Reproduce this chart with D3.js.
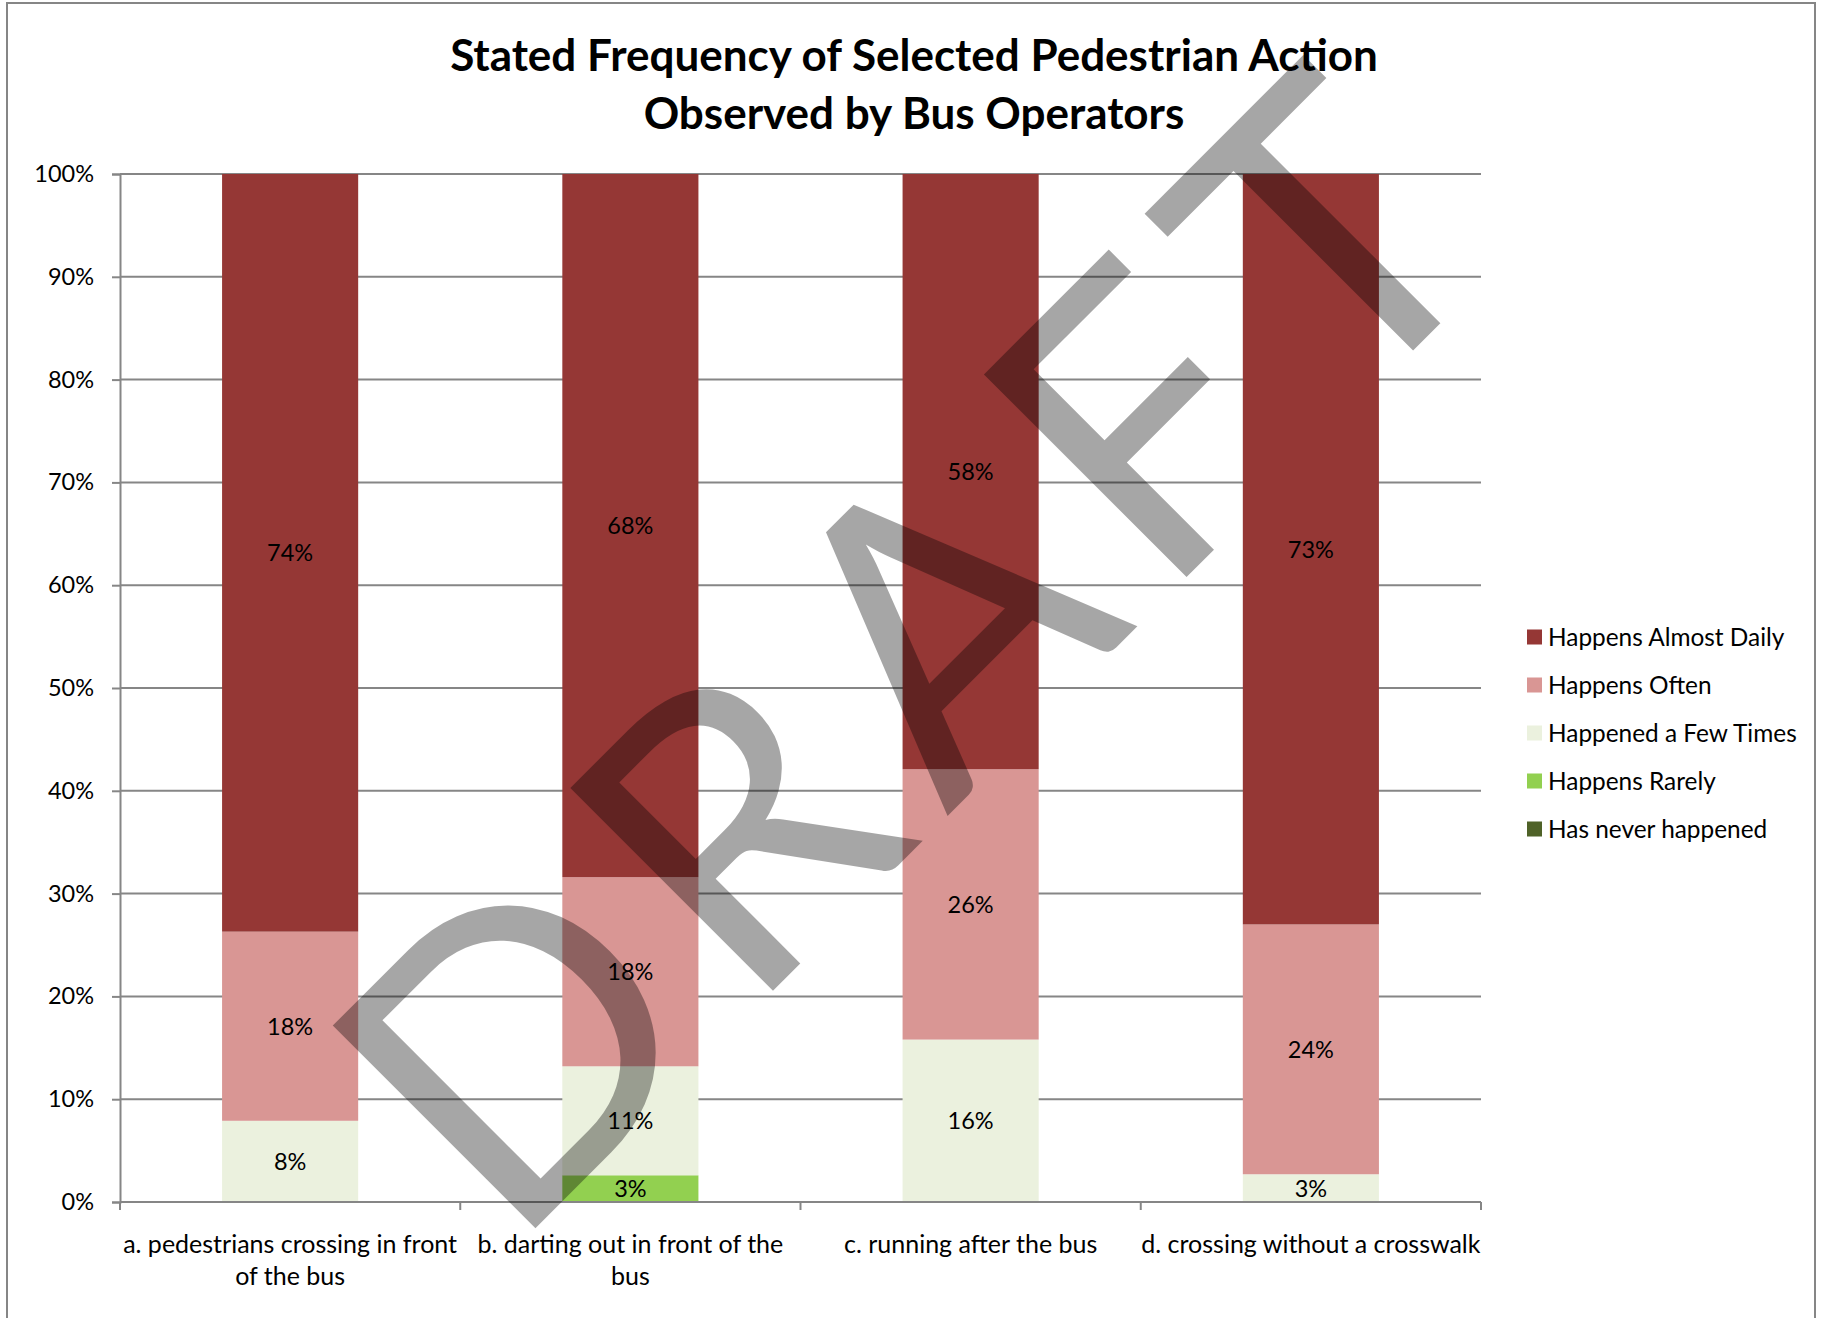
<!DOCTYPE html>
<meta charset="utf-8">
<html>
<head>
    <script src="https://d3js.org/d3.v7.min.js"></script>
    <style>
        body { margin: 0; background: white; }
        text { font-family: Lato, "Open Sans", sans-serif; }
    </style>
</head>
<body>
    <script>

        // categories and series (percent of operators); "\n" marks the label wrap
        const categories = [
            "a. pedestrians crossing in front\nof the bus",
            "b. darting out in front of the\nbus",
            "c. running after the bus",
            "d. crossing without a crosswalk"
        ];
        const seriesNames = ["Happens Almost Daily", "Happens Often", "Happened a Few Times", "Happens Rarely", "Has never happened"];
        const almostDaily = [73.7, 68.4, 57.9, 73.0];
        const often = [18.4, 18.4, 26.3, 24.3];
        const fewTimes = [7.9, 10.6, 15.8, 2.7];
        const rarely = [0, 2.6, 0, 0];
        const never = [0, 0, 0, 0];
        const yTicks = [0, 10, 20, 30, 40, 50, 60, 70, 80, 90, 100];

        const colors = ["#953735", "#D99694", "#EBF1DE", "#92D050", "#4F6228"];
        const seriesValues = [almostDaily, often, fewTimes, rarely, never];

        const width = 1833, height = 1318;
        const margin = { top: 174, left: 120, right: 352, bottom: 116 };
        const gray = "#868686";

        const svg = d3.select("body").append("svg")
            .attr("width", width)
            .attr("height", height);

        // outer chart frame
        svg.append("rect")
            .attr("x", 7).attr("y", 3)
            .attr("width", 1808).attr("height", 1330)
            .attr("fill", "white")
            .attr("stroke", gray)
            .attr("stroke-width", 2);

        // rows for stacking
        const rows = categories.map((c, i) => {
            const r = { cat: c };
            seriesNames.forEach((s, j) => r[s] = seriesValues[j][i]);
            return r;
        });

        // bottom to top: never, rarely, few, often, daily
        const stackKeys = seriesNames.slice().reverse();
        const stacked = d3.stack().keys(stackKeys)(rows);

        const x = d3.scaleBand()
            .domain(categories)
            .range([margin.left, width - margin.right])
            .paddingInner(0.6)
            .paddingOuter(0.3);

        const y = d3.scaleLinear()
            .domain([0, 100])
            .range([height - margin.bottom, margin.top]);

        // gridlines
        svg.append("g")
            .selectAll("line")
            .data(yTicks.filter(d => d > 0))
            .join("line")
            .attr("x1", margin.left)
            .attr("x2", width - margin.right)
            .attr("y1", d => y(d))
            .attr("y2", d => y(d))
            .attr("stroke", gray)
            .attr("stroke-width", 2);

        // y axis
        const yAxis = svg.append("g")
            .attr("transform", `translate(${margin.left},0)`)
            .call(d3.axisLeft(y).tickValues(yTicks).tickSize(8).tickPadding(18)
                .tickFormat(d => d + "%"));
        yAxis.selectAll("path, line").attr("stroke", gray).attr("stroke-width", 2);
        yAxis.selectAll("text")
            .style("font-size", "23.5px")
            .style("font-family", "Lato")
            .attr("fill", "black");

        // bars
        const layer = svg.append("g")
            .selectAll("g")
            .data(stacked)
            .join("g")
            .attr("fill", d => colors[seriesNames.indexOf(d.key)]);

        layer.selectAll("rect")
            .data(d => d)
            .join("rect")
            .attr("x", d => x(d.data.cat))
            .attr("width", x.bandwidth())
            .attr("y", d => y(d[1]))
            .attr("height", d => y(d[0]) - y(d[1]));

        // value labels
        const fmt = d3.format(".0%");
        stacked.forEach(s => {
            svg.append("g")
                .selectAll("text")
                .data(s.filter(d => d[1] - d[0] > 0))
                .join("text")
                .attr("x", d => x(d.data.cat) + x.bandwidth() / 2)
                .attr("y", d => y((d[0] + d[1]) / 2))
                .attr("dy", "0.36em")
                .attr("text-anchor", "middle")
                .style("font-size", "23.5px")
                .text(d => fmt((d[1] - d[0]) / 100));
        });

        // x axis
        const xAxis = svg.append("g")
            .attr("transform", `translate(0,${y(0)})`);
        xAxis.append("line")
            .attr("x1", margin.left).attr("x2", width - margin.right)
            .attr("stroke", gray).attr("stroke-width", 2);
        xAxis.selectAll(".tk")
            .data(d3.range(categories.length + 1))
            .join("line")
            .attr("x1", i => margin.left + i * x.step())
            .attr("x2", i => margin.left + i * x.step())
            .attr("y1", 0).attr("y2", 8)
            .attr("stroke", gray).attr("stroke-width", 2);

        xAxis.selectAll(".lbl")
            .data(categories)
            .join("text")
            .attr("text-anchor", "middle")
            .style("font-size", "25px")
            .each(function (d) {
                const t = d3.select(this);
                d.split("\n").forEach((line, i) => {
                    t.append("tspan")
                        .attr("x", x(d) + x.bandwidth() / 2)
                        .attr("y", 51 + i * 32)
                        .text(line);
                });
            });

        // title
        const title = svg.append("text")
            .attr("text-anchor", "middle")
            .style("font-size", "44px")
            .style("font-weight", "bold");
        title.append("tspan").attr("x", 914).attr("y", 71).text("Stated Frequency of Selected Pedestrian Action");
        title.append("tspan").attr("x", 914).attr("y", 129).text("Observed by Bus Operators");

        // legend
        const legend = svg.append("g")
            .attr("transform", "translate(1527,637)");
        const item = legend.selectAll("g")
            .data(seriesNames)
            .join("g")
            .attr("transform", (d, i) => `translate(0,${i * 48})`);
        item.append("rect")
            .attr("y", -7.5)
            .attr("width", 15).attr("height", 15)
            .attr("fill", (d, i) => colors[i]);
        item.append("text")
            .attr("x", 21)
            .attr("dy", "0.36em")
            .style("font-size", "24.4px")
            .text(d => d);

        // DRAFT watermark
        svg.append("text")
            .attr("transform", "translate(908,652) rotate(-45)")
            .attr("text-anchor", "middle")
            .attr("dy", "0.36em")
            .attr("textLength", 1415)
            .attr("lengthAdjust", "spacing")
            .style("font-size", "400px")
            .style("font-weight", "normal")
            .attr("fill", "black")
            .attr("fill-opacity", 0.35)
            .text("DRAFT");

    </script>
</body>
</html>
